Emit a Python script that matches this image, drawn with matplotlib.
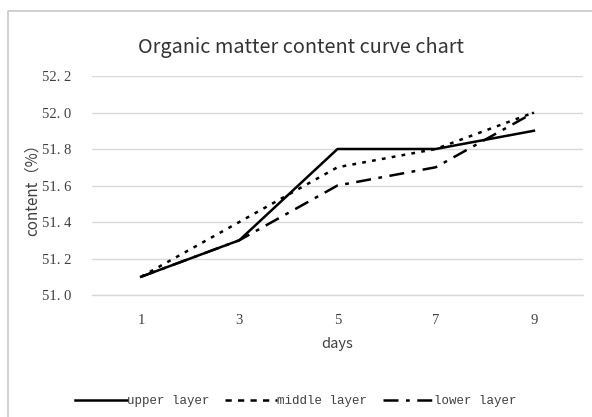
import matplotlib
matplotlib.use("Agg")
import matplotlib.pyplot as plt
from matplotlib.lines import Line2D

days = ["1", "3", "5", "7", "9"]
upper = [51.1, 51.3, 51.8, 51.8, 51.9]
middle = [51.1, 51.4, 51.7, 51.8, 52.0]
lower = [51.1, 51.3, 51.6, 51.7, 52.0]
yticks = [51.0, 51.2, 51.4, 51.6, 51.8, 52.0, 52.2]
ytick_labels = ["51. 0", "51. 2", "51. 4", "51. 6", "51. 8", "52. 0", "52. 2"]

W, H = 592, 417
fig = plt.figure(figsize=(W / 100, H / 100), dpi=100)
fig.patch.set_facecolor("white")
# chart frame: only left and top edges visible (cropped screenshot)
fig.lines.append(Line2D([7.5 / W, 7.5 / W, 1], [0, 1 - 11 / H, 1 - 11 / H],
                        transform=fig.transFigure, color="#c8c8c8", linewidth=1.2))

ax = fig.add_axes([92 / W, 1 - 295 / H, (583 - 92) / W, (295 - 76) / H])
x = list(range(len(days)))
lw = 1.8
ax.plot(x, upper, color="black", linewidth=lw, linestyle="-", label="upper layer")
ax.plot(x, middle, color="black", linewidth=lw, linestyle=(0, (1.5, 2.5)), label="middle layer")
ax.plot(x, lower, color="black", linewidth=lw, linestyle=(0, (6, 3, 1.5, 3)), label="lower layer")

ax.set_xlim(-0.5, len(days) - 0.5)
ax.set_ylim(51.0, 52.2)
ax.set_yticks(yticks)
ax.set_yticklabels(ytick_labels, family="Liberation Serif", fontsize=10.5, color="#404040")
ax.set_xticks(x)
ax.set_xticklabels(days, family="Liberation Serif", fontsize=10.5, color="#404040")
ax.tick_params(axis="both", length=0)
ax.tick_params(axis="y", pad=15)
ax.tick_params(axis="x", pad=14)
ax.grid(axis="y", color="#d9d9d9", linewidth=1)
ax.set_axisbelow(True)
for s in ["top", "right", "left"]:
    ax.spines[s].set_visible(False)
ax.spines["bottom"].set_color("#d9d9d9")
ax.spines["bottom"].set_linewidth(1)

ax.set_xlabel("days", family=["Noto Sans CJK SC", "DejaVu Sans"], fontsize=10.5, color="#404040", labelpad=7)
ax.set_ylabel("content（%）", family=["Noto Sans CJK SC", "DejaVu Sans"], fontsize=11, color="#404040", labelpad=1)
fig.text(301 / W, 1 - 47 / H, "Organic matter content curve chart", ha="center", va="center",
         family=["Noto Sans CJK SC", "DejaVu Sans"], fontsize=14.3, color="#333333")

handles = [Line2D([], [], color="black", linewidth=lw, linestyle="-"),
           Line2D([], [], color="black", linewidth=lw, linestyle=(0, (2.5, 2.5))),
           Line2D([], [], color="black", linewidth=lw, linestyle=(0, (6, 3, 1.5, 3)))]
fig.legend(handles, ["upper layer", "middle layer", "lower layer"], loc="center",
           bbox_to_anchor=(296 / W, 1 - 401 / H), ncol=3, frameon=False,
           prop={"family": "Liberation Mono", "size": 9}, handlelength=4.1,
           handletextpad=0.0, columnspacing=1.3, labelcolor="#404040")

fig.savefig("out.png", dpi=100)
